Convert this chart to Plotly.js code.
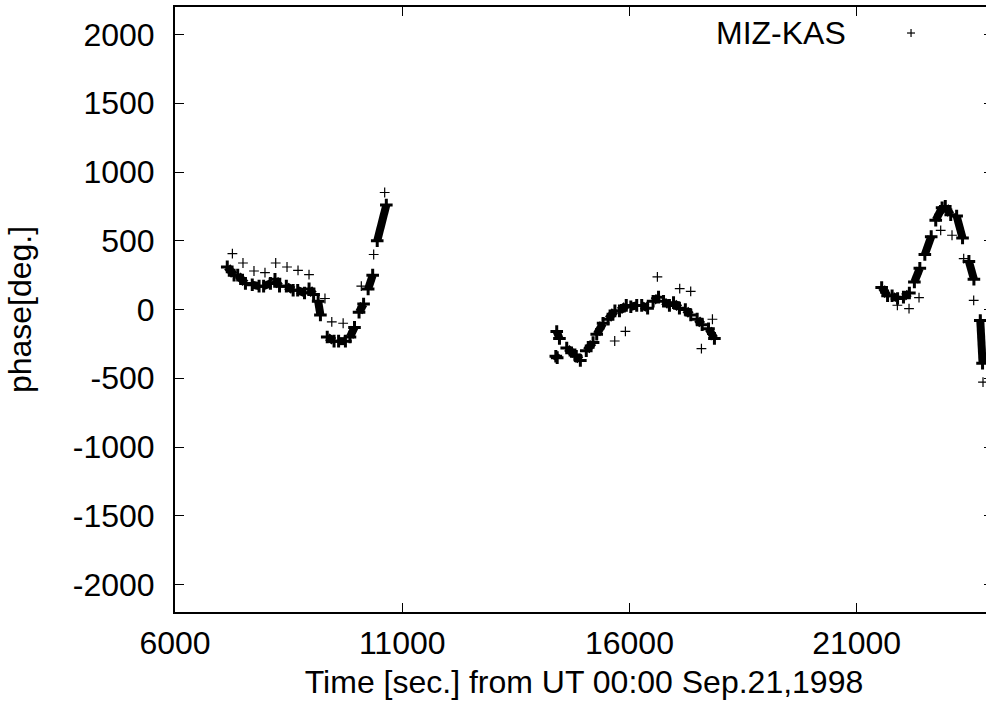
<!DOCTYPE html>
<html>
<head>
<meta charset="utf-8">
<script src="https://cdn.plot.ly/plotly-3.0.1.min.js"></script>
<style>
html,body{margin:0;padding:0;overflow:hidden;background:#fff;}
#chart{width:994px;height:713px;}
</style>
</head>
<body>
<div id="chart"></div>
<script>
// Dense scan segments (start/end of each scan), null separates scans
const scanTime = [
  7150, 7300, null, 7380, 7550, null, 7700, 7850, null, 7950, 8100, null,
  8200, 8300, null, 8450, 8600, null, 8700, 8850, null, 8950, 9050, null,
  9150, 9200, null, 9350, 9500, null, 9600, 9750, null, 9850, 9950, null,
  10050, 10150, null, 10250, 10350, null, 10450, 10650, null,
  14380, 14410, null, 14400, 14460, null, 14620, 14800, null, 14830, 14920, null,
  15050, 15200, null, 15280, 15420, null, 15530, 15680, null, 15780, 15930, null,
  16030, 16160, null, 16270, 16400, null, 16520, 16640, null, 16750, 16880, null,
  16970, 17100, null, 17230, 17350, null, 17490, 17600, null, 17740, 17870, null,
  21550, 21680, null, 21780, 21900, null, 22030, 22160, null, 22270, 22390, null,
  22500, 22640, null, 22740, 22880, null, 22950, 23070, null, 23200, 23330, null,
  23470, 23580, null, 23720, 23770
];
const scanPhase = [
  310, 250, null, 250, 190, null, 180, 170, null, 170, 190, null,
  220, 170, null, 170, 140, null, 140, 120, null, 150, 110, null,
  60, -40, null, -200, -230, null, -230, -230, null, -200, -130, null,
  -20, 40, null, 150, 250, null, 500, 760, null,
  -340, -350, null, -160, -210, null, -280, -330, null, -340, -370, null,
  -300, -240, null, -180, -100, null, -70, -10, null, -10, 30, null,
  20, 30, null, 30, 10, null, 60, 90, null, 60, 30, null,
  50, 10, null, 0, -40, null, -70, -110, null, -140, -210, null,
  160, 100, null, 100, 80, null, 90, 120, null, 200, 300, null,
  400, 530, null, 650, 740, null, 750, 690, null, 680, 520, null,
  350, 220, null, -80, -390
];
// Isolated points
const outTime = [
  7263, 7496, 7738, 7980, 8216, 8465, 8707, 8949, 9300, 9450, 9700, 10100, 10372, 10614,
  15676, 15911, 16615, 17106, 17348, 17584, 17826,
  21896, 22152, 22372, 22849, 23098, 23355, 23575, 23730, 23780
];
const outPhase = [
  407, 338, 280, 268, 338, 309, 285, 254, 80, -90, -100, 170, 400, 851,
  -229, -159, 237, 152, 132, -285, -71,
  31, 7, 87, 576, 540, 370, 67, -79, -528
];
const xTicks = [6000, 11000, 16000, 21000];
const yTicks = [-2000, -1500, -1000, -500, 0, 500, 1000, 1500, 2000];
const seriesName = 'MIZ-KAS';

const FONT = '"Liberation Sans", Arial, Helvetica, sans-serif';

const traces = [
  {
    x: scanTime, y: scanPhase, type: 'scatter', mode: 'lines+markers',
    name: seriesName, showlegend: false, connectgaps: false,
    line: {color: '#000', width: 8},
    marker: {symbol: 'cross-thin-open', size: 9, color: '#000', line: {color: '#000', width: 3}},
    cliponaxis: true, hoverinfo: 'skip'
  },
  {
    x: outTime, y: outPhase, type: 'scatter', mode: 'markers',
    name: seriesName, showlegend: false,
    marker: {symbol: 'cross-thin-open', size: 7, color: '#000', line: {color: '#000', width: 1.2}},
    cliponaxis: true, hoverinfo: 'skip'
  }
];

const axisCommon = {
  showgrid: false, zeroline: false,
  showline: true, linecolor: '#000', linewidth: 2, mirror: 'ticks',
  ticks: 'inside', ticklen: 9, tickwidth: 1, tickcolor: '#000',
  tickfont: {family: FONT, size: 32, color: '#000'}
};

const layout = {
  width: 994, height: 713,
  margin: {l: 175, r: 1, t: 7, b: 101, pad: 0},
  paper_bgcolor: '#fff', plot_bgcolor: '#fff',
  font: {family: FONT, size: 32, color: '#000'},
  showlegend: false,
  xaxis: Object.assign({}, axisCommon, {
    range: [6000, 24000], tickvals: xTicks, ticktext: xTicks.map(String),
    ticklabelstandoff: 2,
    title: {text: 'Time [sec.] from UT 00:00 Sep.21,1998', font: {family: FONT, size: 32, color: '#000'}, standoff: 10}
  }),
  yaxis: Object.assign({}, axisCommon, {
    range: [-2200, 2200], tickvals: yTicks, ticktext: yTicks.map(String),
    ticklabelstandoff: 12,
    title: {text: 'phase[deg.]', font: {family: FONT, size: 32, color: '#000'}, standoff: 32}
  }),
  annotations: [
    {text: seriesName, xref: 'paper', yref: 'paper', x: 0.8225, y: 0.957,
     xanchor: 'right', yanchor: 'middle', showarrow: false,
     font: {family: FONT, size: 32, color: '#000'}}
  ],
  shapes: [
    {type: 'line', xref: 'paper', yref: 'paper', x0: 0.8998, x1: 0.8998, y0: 0.957 - 4/605, y1: 0.957 + 4/605, line: {color: '#000', width: 1.2}},
    {type: 'line', xref: 'paper', yref: 'paper', x0: 0.8998 - 4/818, x1: 0.8998 + 4/818, y0: 0.957, y1: 0.957, line: {color: '#000', width: 1.2}}
  ]
};

Plotly.newPlot('chart', traces, layout, {displayModeBar: false, staticPlot: true});
</script>
</body>
</html>
